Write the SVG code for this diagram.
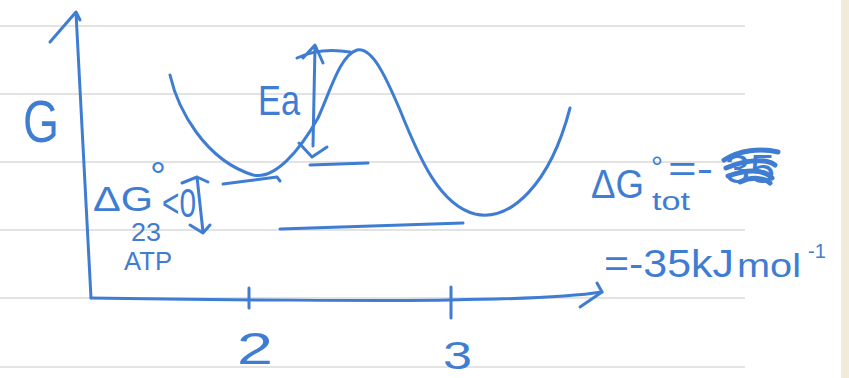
<svg xmlns="http://www.w3.org/2000/svg" width="849" height="378" viewBox="0 0 849 378">
<style>
.rule{stroke:#e3e3e3;stroke-width:2;fill:none}
.ink{fill:none;stroke:#3f7dd2;stroke-width:3;stroke-linecap:round;stroke-linejoin:round}
.scr{fill:none;stroke:#3f7dd2;stroke-width:5;stroke-linecap:round;stroke-linejoin:round}
.t{fill:#3f7dd2;font-family:"Liberation Sans",Arial,sans-serif}
</style>
<rect width="849" height="378" fill="#ffffff"/>
<rect x="841" y="0" width="8" height="378" fill="#f3ebd9"/>
<g id="paper">
<path class="rule" d="M0,26H745M0,94H745M0,162H745M0,230H745M0,298H745M0,367H745"/>
</g>
<g id="connectors">
<path id="y-axis" class="ink" d="M76,13 L91,298"/>
<path class="ink" d="M50,42 L76,12 L80,20"/>
<path id="x-axis" class="ink" d="M91,298 C200,300 400,301 450,300 C520,299 570,297 602,292"/>
<path class="ink" d="M597,283 L602,292 L580,307"/>
<path class="ink" d="M249,288 L249,308 M451,287 L451,318"/>
<path id="energy-curve" class="ink" d="M170,75 C178,110 205,160 253,175 C275,180 300,150 318,118 C330,92 340,55 357,50 C372,47 385,75 400,110 C420,160 440,205 475,214 C510,222 550,185 570,108"/>
<path id="ea-arrow" class="ink" d="M315,46 L313,146 M303,58 L315,45 L323,63 M297,58 Q320,47 350,52 M299,143 L312,157 L327,147"/>
<path class="ink" d="M310,165 L368,163"/>
<path class="ink" d="M223,184 L277,177 L280,181"/>
<path class="ink" d="M280,229 L463,223"/>
<path id="dg-bracket" class="ink" d="M182,183 L197,177 L208,182 M197,177 L203,232 M190,225 L203,233 L210,225"/>
</g>
<g id="axis-labels">
<text class="t" x="23" y="142" font-size="60" textLength="36" lengthAdjust="spacingAndGlyphs">G</text>
<text class="t" x="237" y="364" font-size="44" textLength="36" lengthAdjust="spacingAndGlyphs">2</text>
<text class="t" x="443" y="369" font-size="38" textLength="29" lengthAdjust="spacingAndGlyphs">3</text>
</g>
<g id="label-ea">
<text class="t" x="258" y="115" font-size="42" textLength="42" lengthAdjust="spacingAndGlyphs">Ea</text>
</g>
<g id="label-dg-atp">
<text class="t" x="93" y="211" font-size="35" textLength="60" lengthAdjust="spacingAndGlyphs">ΔG</text>
<text class="t" x="150" y="190" font-size="40">°</text>
<text class="t" x="162" y="217" font-size="40" textLength="34" lengthAdjust="spacingAndGlyphs">&lt;0</text>
<text class="t" x="131" y="241" font-size="26" textLength="30" lengthAdjust="spacingAndGlyphs">23</text>
<text class="t" x="124" y="270" font-size="25" textLength="48" lengthAdjust="spacingAndGlyphs">ATP</text>
</g>
<g id="label-dg-tot">
<text class="t" x="591" y="198" font-size="40" textLength="53" lengthAdjust="spacingAndGlyphs">ΔG</text>
<text class="t" x="651" y="177" font-size="30">°</text>
<text class="t" x="668" y="181" font-size="36" textLength="45" lengthAdjust="spacingAndGlyphs">=-</text>
<text class="t" x="725" y="183" font-size="40" textLength="50" lengthAdjust="spacingAndGlyphs">35</text>
<path class="scr" d="M724,160 C740,150 760,148 778,152 M726,168 C745,160 765,158 775,165 M728,176 C745,170 762,168 772,178 M740,182 C752,176 765,178 770,183"/>
<text class="t" x="652" y="210" font-size="25" textLength="38" lengthAdjust="spacingAndGlyphs">tot</text>
<text class="t" x="604" y="277" font-size="38" textLength="130" lengthAdjust="spacingAndGlyphs">=-35kJ</text>
<text class="t" x="737" y="277" font-size="33" textLength="64" lengthAdjust="spacingAndGlyphs">mol</text>
<text class="t" x="808" y="258" font-size="20">-1</text>
</g>
</svg>
